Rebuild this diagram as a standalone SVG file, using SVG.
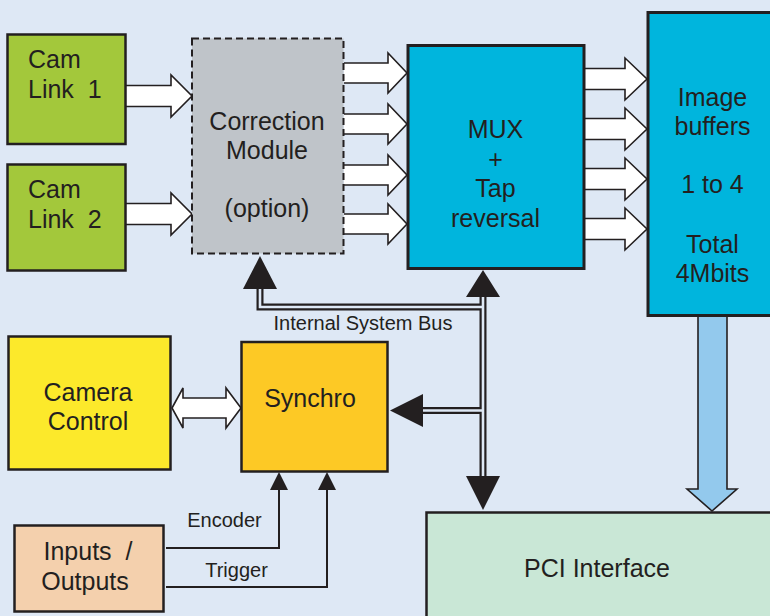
<svg xmlns="http://www.w3.org/2000/svg" width="770" height="616" viewBox="0 0 770 616">
<style>
.box{stroke:#231f20;stroke-width:2.5}
.t{font-family:"Liberation Sans",Arial,sans-serif;font-size:25px;fill:#231f20;text-anchor:middle}
.ts{font-family:"Liberation Sans",Arial,sans-serif;font-size:20px;fill:#231f20;text-anchor:middle}
.hollow{fill:#ffffff;stroke:#231f20;stroke-width:1.6;stroke-linejoin:miter}
.busO{fill:none;stroke:#231f20;stroke-width:7}
.busI{fill:none;stroke:#dee8f5;stroke-width:2.6}
.head{fill:#231f20;stroke:none}
.sig{fill:none;stroke:#231f20;stroke-width:2}
</style>
<rect x="0" y="0" width="770" height="616" fill="#dee8f5"/>

<g id="connectors">
  <path class="hollow" d="M126,85.5 H171 V75 L192,96 L171,117 V106.5 H126"/>
  <path class="hollow" d="M126,203.5 H171 V193 L192,214 L171,235 V224.5 H126"/>
  <path class="hollow" d="M344,63 H388 V53 L407,73 L388,93 V83 H344"/>
  <path class="hollow" d="M344,114 H388 V104 L407,124 L388,144 V134 H344"/>
  <path class="hollow" d="M344,165 H388 V155 L407,175 L388,195 V185 H344"/>
  <path class="hollow" d="M344,214 H388 V204 L407,224 L388,244 V234 H344"/>
  <path class="hollow" d="M585,68.5 H625 V58 L647,79 L625,100 V89.5 H585"/>
  <path class="hollow" d="M585,118.5 H625 V108 L647,129 L625,150 V139.5 H585"/>
  <path class="hollow" d="M585,168.5 H625 V158 L647,179 L625,200 V189.5 H585"/>
  <path class="hollow" d="M585,218.5 H625 V208 L647,229 L625,250 V239.5 H585"/>
  <path class="hollow" d="M172,408 L183,388 V398 H226 V388 L241,408 L226,428 V418 H183 V428 Z"/>
  <path fill="#93c9ed" stroke="#231f20" stroke-width="1.6" d="M698,316 V489 H687 L712,511 L737,489 H727 V316"/>
  <path class="busO" d="M260,289 V307 H483"/>
  <path class="busO" d="M483,296 V477"/>
  <path class="busO" d="M422,410.5 H483"/>
  <path class="busI" d="M260,288 V307 H483"/>
  <path class="busI" d="M483,295 V478"/>
  <path class="busI" d="M421,410.5 H483"/>
  <path class="head" d="M260,256 L277,289 H243 Z"/>
  <path class="head" d="M483,270 L500,297 H466 Z"/>
  <path class="head" d="M390,410.5 L423,394 V427 Z"/>
  <path class="head" d="M483,510 L500,476 H466 Z"/>
  <path class="sig" d="M166,548 H279 V489"/>
  <path class="head" d="M279,472 L288,490 H270 Z"/>
  <path class="sig" d="M166,587 H327 V489"/>
  <path class="head" d="M327,472 L336,490 H318 Z"/>
  <text class="ts" x="363" y="330">Internal System Bus</text>
  <text class="ts" x="224.5" y="527">Encoder</text>
  <text class="ts" x="236.5" y="577">Trigger</text>
</g>

<g id="camlink1">
  <rect class="box" x="7.5" y="34.5" width="118" height="109.5" fill="#a3c83b"/>
  <text class="t" x="28" y="68" style="text-anchor:start">Cam</text>
  <text class="t" x="28" y="98" style="text-anchor:start;white-space:pre" xml:space="preserve">Link  1</text>
</g>
<g id="camlink2">
  <rect class="box" x="7.5" y="164.5" width="118" height="106" fill="#a3c83b"/>
  <text class="t" x="28" y="198" style="text-anchor:start">Cam</text>
  <text class="t" x="28" y="228" style="text-anchor:start;white-space:pre" xml:space="preserve">Link  2</text>
</g>
<g id="correction">
  <rect x="192" y="38.5" width="151.5" height="215" fill="#bfc4c9" stroke="#231f20" stroke-width="2" stroke-dasharray="7,4"/>
  <text class="t" x="267" y="130">Correction</text>
  <text class="t" x="267" y="159">Module</text>
  <text class="t" x="267" y="217">(option)</text>
</g>
<g id="mux">
  <rect x="408" y="45.5" width="176" height="223" fill="#00b5dd" stroke="#231f20" stroke-width="3"/>
  <text class="t" x="495.5" y="138">MUX</text>
  <text class="t" x="495.5" y="168">+</text>
  <text class="t" x="495.5" y="197">Tap</text>
  <text class="t" x="495.5" y="227">reversal</text>
</g>
<g id="imagebuffers">
  <rect x="648" y="12.5" width="130" height="303" fill="#00b5dd" stroke="#231f20" stroke-width="3"/>
  <text class="t" x="712.5" y="106">Image</text>
  <text class="t" x="712.5" y="135">buffers</text>
  <text class="t" x="712.5" y="193">1 to 4</text>
  <text class="t" x="712.5" y="253">Total</text>
  <text class="t" x="712.5" y="282">4Mbits</text>
</g>
<g id="cameracontrol">
  <rect class="box" x="8.5" y="336.5" width="162" height="133" fill="#fce92b"/>
  <text class="t" x="88" y="401">Camera</text>
  <text class="t" x="88" y="430">Control</text>
</g>
<g id="synchro">
  <rect class="box" x="241.5" y="342" width="146" height="129.5" fill="#fdc925"/>
  <text class="t" x="310" y="407">Synchro</text>
</g>
<g id="inputsoutputs">
  <rect class="box" x="14.5" y="525.5" width="149" height="86" fill="#f4d0ad"/>
  <text class="t" x="88" y="560" style="white-space:pre" xml:space="preserve">Inputs  /</text>
  <text class="t" x="85" y="590">Outputs</text>
</g>
<g id="pci">
  <rect class="box" x="426.5" y="512.5" width="350" height="110" fill="#c9e7d6"/>
  <text class="t" x="597" y="577">PCI Interface</text>
</g>
</svg>
